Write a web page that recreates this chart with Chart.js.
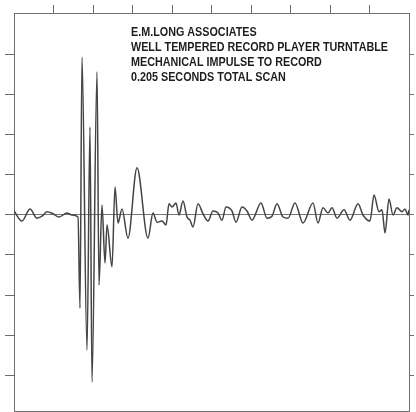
<!DOCTYPE html>
<html>
<head>
<meta charset="utf-8">
<script src="https://cdn.jsdelivr.net/npm/chart.js@4.4.0/dist/chart.umd.min.js"></script>
<style>
  html, body { margin: 0; padding: 0; background: #ffffff; }
  #scope { display: block; }
</style>
</head>
<body>
<canvas id="scope" width="416" height="412"></canvas>
<script>
// time in ms (0.205 s total scan)
const timeMs = [
    0, 4.15, 8.3, 11.94, 14.53, 17.13, 20.24, 23.35, 27.51, 30.1, 33.22,
    34.25, 35.29, 37.89, 39.44, 40.48, 43.08, 44.11, 45.67, 47.23, 48.27,
    50.86, 52.42, 53.97, 56.05, 59.16, 63.84, 69.54, 72.14, 74.22, 76.81,
    78.89, 80.44, 82.0, 84.08, 85.63, 87.71, 89.79, 91.34, 92.9, 95.5,
    98.09, 100.69, 103.28, 105.88, 107.95, 110.03, 113.14, 115.22, 118.33, 120.92,
    123.52, 128.19, 131.3, 133.9, 136.49, 139.61, 142.2, 145.84, 149.99, 155.18,
    157.77, 160.37, 162.96, 165.04, 167.63, 171.27, 174.38, 178.53, 181.13, 184.76,
    186.84, 189.43, 190.99, 192.55, 194.62, 196.7, 198.77, 201.37, 202.93, 204.48, 205
];
// impulse amplitude (divisions)
const impulse = [
    0.1, -0.15, 0.15, -0.08, -0.03, 0.08, 0.03, -0.05, 0.05, 0, -0.05,
    -2.33, 3.95, -3.38, 2.2, -4.18, 3.58, -1.75, 0.25, -1.2, -0.25,
    -1.3, 0.7, -0.2, 0.15, -0.58, 1.18, -0.58, 0.05, -0.18, -0.15,
    -0.25, 0.28, 0.2, 0.3, 0, 0.35, -0.05, -0.13, -0.3, 0.28,
    0.03, -0.15, 0.1, 0.05, -0.13, 0.2, 0.1, -0.18, 0.2, 0.1,
    -0.13, 0.3, -0.08, -0.03, 0.28, -0.05, -0.08, 0.3, -0.2, 0.3,
    -0.2, 0.18, 0.05, 0.18, -0.08, 0.13, -0.13, 0.28, 0, -0.15,
    0.5, 0.08, 0.13, -0.45, 0.4, 0, 0.18, 0.08, 0.15, 0, 0.13
];
const xTicks = [20.5, 41, 61.5, 82, 102.5, 123, 143.5, 164, 184.5];
const yTicks = [-4, -3, -2, -1, 0, 1, 2, 3, 4];
const noteLines = [
    "E.M.LONG ASSOCIATES",
    "WELL TEMPERED RECORD PLAYER TURNTABLE",
    "MECHANICAL IMPULSE TO RECORD",
    "0.205 SECONDS TOTAL SCAN"
];

const frameColor = '#6e6e6e';
const traceColor = '#444444';

let points = [];
for (let i = 0; i < timeMs.length; i++) {
    points.push({ x: timeMs[i], y: impulse[i] });
}

let notePlugin = {
    id: 'note_text',
    afterDraw: (chart) => {
        const ctx = chart.ctx;
        ctx.save();
        ctx.font = "bold 12px 'Liberation Sans Narrow', 'Arial Narrow', 'Liberation Sans', sans-serif";
        ctx.fillStyle = '#1e1e1e';
        ctx.textBaseline = 'alphabetic';
        // squeeze so the longest line spans like the original
        let sx = 257 / ctx.measureText(noteLines[1]).width;
        for (let i = 0; i < noteLines.length; i++) {
            ctx.save();
            ctx.translate(131, 36 + i * 15);
            ctx.scale(sx, 1);
            ctx.fillText(noteLines[i], 0, 0);
            ctx.restore();
        }
        ctx.restore();
    }
};

function setTicks(list) {
    return function(axis) {
        axis.ticks = list.map(v => ({ value: v }));
    };
}

new Chart(document.getElementById('scope'), {
    type: 'line',
    data: {
        datasets: [{
            data: points,
            borderColor: traceColor,
            borderWidth: 1.5,
            pointRadius: 0,
            fill: false,
            cubicInterpolationMode: 'monotone'
        }]
    },
    options: {
        responsive: false,
        animation: false,
        layout: { padding: { top: 5, left: 5, right: 2, bottom: 1 } },
        plugins: { legend: { display: false }, tooltip: { enabled: false } },
        scales: {
            x: {
                type: 'linear', position: 'bottom', min: 0, max: 205,
                grid: { display: false, drawTicks: false },
                ticks: { display: false },
                border: { color: frameColor, width: 1 }
            },
            xTop: {
                type: 'linear', position: 'top', min: 0, max: 205,
                afterBuildTicks: setTicks(xTicks),
                grid: { drawOnChartArea: false, tickLength: 8, tickColor: frameColor, tickWidth: 1 },
                ticks: { display: false },
                border: { color: frameColor, width: 1 }
            },
            y: {
                type: 'linear', position: 'left', min: -4.9, max: 5.05,
                afterBuildTicks: setTicks(yTicks),
                grid: {
                    color: (c) => (c.tick && c.tick.value === 0) ? '#777777' : 'rgba(0,0,0,0)',
                    lineWidth: 1,
                    tickLength: 9, tickColor: frameColor, tickWidth: 1
                },
                ticks: { display: false },
                border: { color: frameColor, width: 1 }
            },
            yRight: {
                type: 'linear', position: 'right', min: -4.9, max: 5.05,
                afterBuildTicks: setTicks(yTicks),
                grid: { drawOnChartArea: false, tickLength: 5, tickColor: frameColor, tickWidth: 1 },
                ticks: { display: false },
                border: { color: frameColor, width: 1 }
            }
        }
    },
    plugins: [notePlugin]
});
</script>
</body>
</html>
